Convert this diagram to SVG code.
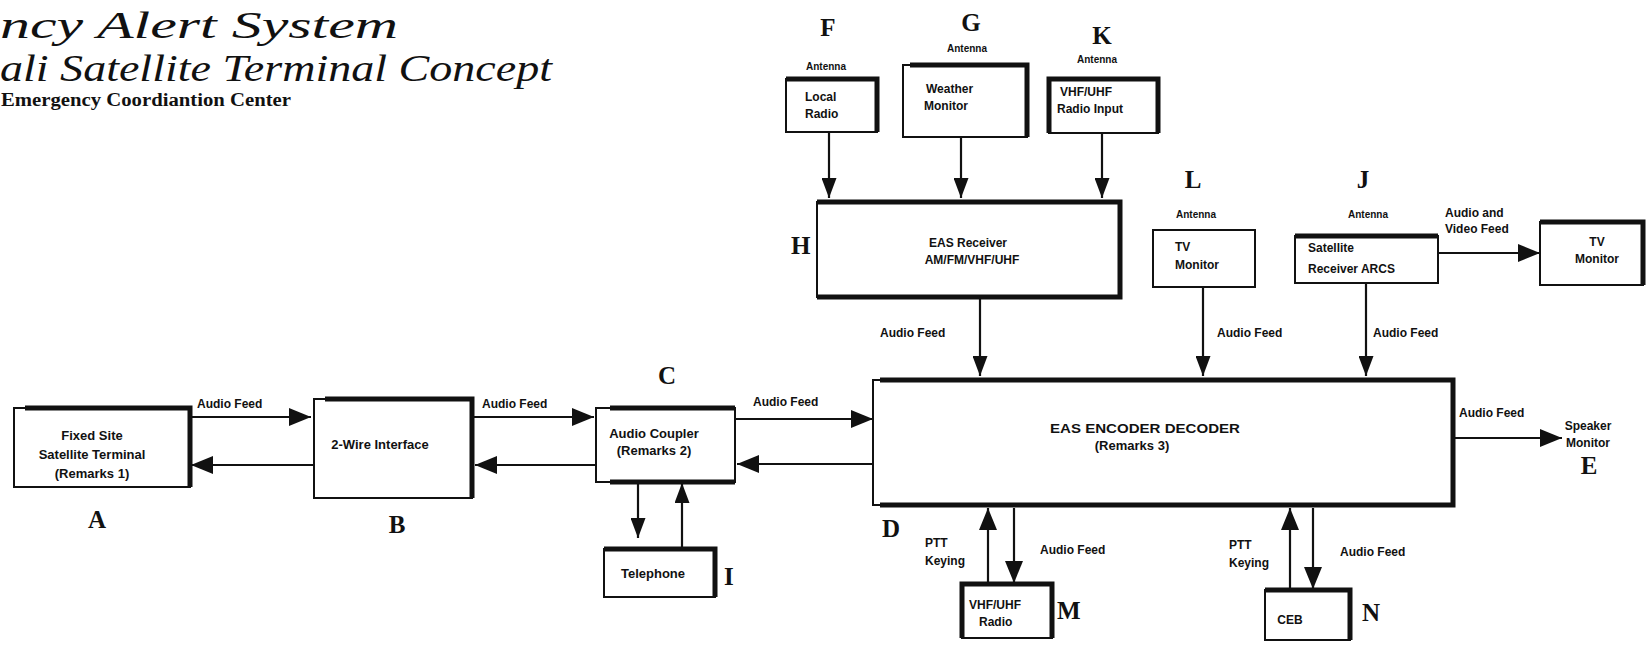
<svg xmlns="http://www.w3.org/2000/svg" width="1646" height="645" viewBox="0 0 1646 645">
<defs>
<style>
.box{fill:#fff;stroke:#111;stroke-width:2}
.heavy{fill:none;stroke:#111;stroke-width:5}
.t{font-family:"Liberation Sans",Arial,sans-serif;font-weight:bold;font-size:12px;fill:#111}
.b{font-family:"Liberation Sans",Arial,sans-serif;font-weight:bold;font-size:13px;fill:#111}
.s{font-family:"Liberation Sans",Arial,sans-serif;font-weight:bold;font-size:12px;fill:#111}
.a{font-family:"Liberation Sans",Arial,sans-serif;font-weight:bold;font-size:10px;fill:#111}
.L{font-family:"Liberation Serif","Times New Roman",serif;font-weight:bold;font-size:25px;fill:#111}
.ttl{font-family:"Liberation Serif","Times New Roman",serif;font-style:italic;fill:#111}
.c{fill:none;stroke:#111;stroke-width:2.2}
</style>
<marker id="ah" viewBox="0 0 22 18" refX="22" refY="9" markerWidth="22" markerHeight="18" orient="auto" markerUnits="userSpaceOnUse"><path d="M0,0 L22,9 L0,18 z" fill="#111"/></marker>
<marker id="av" viewBox="0 0 20 15" refX="20" refY="7.5" markerWidth="20" markerHeight="15" orient="auto" markerUnits="userSpaceOnUse"><path d="M0,0 L20,7.5 L0,15 z" fill="#111"/></marker>
</defs>
<rect width="1646" height="645" fill="#fff"/>

<g id="title">
<text class="ttl" x="0" y="38" font-size="38" textLength="398" lengthAdjust="spacingAndGlyphs">ncy Alert System</text>
<text class="ttl" x="0" y="81" font-size="38" textLength="552" lengthAdjust="spacingAndGlyphs">ali Satellite Terminal Concept</text>
<text x="1" y="106" font-family="Liberation Serif, Times New Roman, serif" font-weight="bold" font-size="18" textLength="290" lengthAdjust="spacingAndGlyphs" fill="#111">Emergency Coordiantion Center</text>
</g>

<g id="connectors">
<line class="c" x1="190" y1="417" x2="311" y2="417" marker-end="url(#ah)"/>
<line class="c" x1="313" y1="465" x2="191" y2="465" marker-end="url(#ah)"/>
<line class="c" x1="473" y1="417" x2="594" y2="417" marker-end="url(#ah)"/>
<line class="c" x1="595" y1="465" x2="475" y2="465" marker-end="url(#ah)"/>
<line class="c" x1="735" y1="419" x2="873" y2="419" marker-end="url(#ah)"/>
<line class="c" x1="873" y1="464" x2="737" y2="464" marker-end="url(#ah)"/>
<line class="c" x1="638" y1="482" x2="638" y2="538" marker-end="url(#av)"/>
<line class="c" x1="682" y1="549" x2="682" y2="483" marker-end="url(#av)"/>
<line class="c" x1="829" y1="132" x2="829" y2="198" marker-end="url(#av)"/>
<line class="c" x1="961" y1="137" x2="961" y2="198" marker-end="url(#av)"/>
<line class="c" x1="1102" y1="133" x2="1102" y2="198" marker-end="url(#av)"/>
<line class="c" x1="980" y1="297" x2="980" y2="376" marker-end="url(#av)"/>
<line class="c" x1="1203" y1="287" x2="1203" y2="376" marker-end="url(#av)"/>
<line class="c" x1="1366" y1="283" x2="1366" y2="376" marker-end="url(#av)"/>
<line class="c" x1="1438" y1="253" x2="1540" y2="253" marker-end="url(#ah)"/>
<line class="c" x1="1453" y1="438" x2="1562" y2="438" marker-end="url(#ah)"/>
<line class="c" x1="988" y1="584" x2="988" y2="508" marker-end="url(#ah)"/>
<line class="c" x1="1014" y1="508" x2="1014" y2="583" marker-end="url(#ah)"/>
<line class="c" x1="1290" y1="590" x2="1290" y2="508" marker-end="url(#ah)"/>
<line class="c" x1="1313" y1="508" x2="1313" y2="589" marker-end="url(#ah)"/>
</g>

<g id="connector-labels">
<text class="s" x="197" y="408">Audio Feed</text>
<text class="s" x="482" y="408">Audio Feed</text>
<text class="s" x="753" y="406">Audio Feed</text>
<text class="s" x="880" y="337">Audio Feed</text>
<text class="s" x="1217" y="337">Audio Feed</text>
<text class="s" x="1373" y="337">Audio Feed</text>
<text class="s" x="1459" y="417">Audio Feed</text>
<text class="s" x="1040" y="554">Audio Feed</text>
<text class="s" x="1340" y="556">Audio Feed</text>
<text class="s" x="1445" y="217">Audio and</text>
<text class="s" x="1445" y="233">Video Feed</text>
<text class="t" x="925" y="547" font-size="11.5">PTT</text>
<text class="t" x="925" y="565" font-size="11.5">Keying</text>
<text class="t" x="1229" y="549" font-size="11.5">PTT</text>
<text class="t" x="1229" y="567" font-size="11.5">Keying</text>
</g>

<g id="nodeA">
<rect class="box" x="14" y="408" width="176" height="79"/>
<path class="heavy" d="M25,408 H190 V487"/>
<text class="b" x="92" y="440" text-anchor="middle" font-size="13.5">Fixed  Site</text>
<text class="b" x="92" y="459" text-anchor="middle" font-size="13.5">Satellite Terminal</text>
<text class="b" x="92" y="478" text-anchor="middle" font-size="13.5">(Remarks 1)</text>
<text class="L" x="97" y="528" text-anchor="middle">A</text>
</g>

<g id="nodeB">
<rect class="box" x="314" y="399" width="158" height="99"/>
<path class="heavy" d="M325,399 H472 V498"/>
<text class="b" x="380" y="449" text-anchor="middle" font-size="13.5">2-Wire Interface</text>
<text class="L" x="397" y="533" text-anchor="middle">B</text>
</g>

<g id="nodeC">
<rect class="box" x="596" y="408" width="139" height="74"/>
<path class="heavy" d="M610,408 H735 M610,482 H735"/>
<text class="b" x="654" y="438" text-anchor="middle">Audio Coupler</text>
<text class="b" x="654" y="455" text-anchor="middle">(Remarks 2)</text>
<text class="L" x="667" y="384" text-anchor="middle">C</text>
</g>

<g id="nodeI">
<rect class="box" x="604" y="549" width="111" height="48"/>
<path class="heavy" d="M604,549 H715 V597"/>
<text class="b" x="653" y="578" text-anchor="middle">Telephone</text>
<text class="L" x="724" y="585">I</text>
</g>

<g id="nodeD">
<rect class="box" x="873" y="380" width="580" height="125"/>
<path class="heavy" d="M880,380 H1453 V505 H880"/>
<text class="b" x="1145" y="433" text-anchor="middle" font-size="14.5" textLength="190" lengthAdjust="spacingAndGlyphs">EAS ENCODER DECODER</text>
<text class="b" x="1132" y="450" text-anchor="middle" font-size="12.5">(Remarks 3)</text>
<text class="L" x="882" y="537" font-size="23">D</text>
</g>

<g id="nodeE">
<text class="t" x="1588" y="430" text-anchor="middle">Speaker</text>
<text class="t" x="1588" y="447" text-anchor="middle">Monitor</text>
<text class="L" x="1589" y="474" text-anchor="middle" font-size="23">E</text>
</g>

<g id="nodeF">
<rect class="box" x="786" y="79" width="91" height="53"/>
<path class="heavy" d="M786,79 H877 V132"/>
<text class="a" x="826" y="70" text-anchor="middle">Antenna</text>
<text class="t" x="805" y="101">Local</text>
<text class="t" x="805" y="118">Radio</text>
<text class="L" x="828" y="36" text-anchor="middle">F</text>
</g>

<g id="nodeG">
<rect class="box" x="903" y="65" width="124" height="72"/>
<path class="heavy" d="M910,65 H1027 V137"/>
<text class="a" x="967" y="52" text-anchor="middle">Antenna</text>
<text class="t" x="926" y="93">Weather</text>
<text class="t" x="924" y="110">Monitor</text>
<text class="L" x="971" y="31" text-anchor="middle">G</text>
</g>

<g id="nodeK">
<rect class="box" x="1049" y="79" width="109" height="54"/>
<path class="heavy" d="M1049,133 V79 H1158 V133"/>
<text class="a" x="1097" y="63" text-anchor="middle">Antenna</text>
<text class="t" x="1060" y="96">VHF/UHF</text>
<text class="t" x="1057" y="113">Radio Input</text>
<text class="L" x="1102" y="44" text-anchor="middle">K</text>
</g>

<g id="nodeH">
<rect class="box" x="817" y="202" width="303" height="95"/>
<path class="heavy" d="M817,202 H1120 V297 H817"/>
<text class="t" x="968" y="247" text-anchor="middle" font-size="12.5">EAS Receiver</text>
<text class="t" x="972" y="264" text-anchor="middle" font-size="12.5">AM/FM/VHF/UHF</text>
<text class="L" x="791" y="254">H</text>
</g>

<g id="nodeL">
<rect class="box" x="1153" y="230" width="102" height="57"/>
<text class="a" x="1196" y="218" text-anchor="middle">Antenna</text>
<text class="t" x="1175" y="251">TV</text>
<text class="t" x="1175" y="269">Monitor</text>
<text class="L" x="1193" y="188" text-anchor="middle">L</text>
</g>

<g id="nodeJ">
<rect class="box" x="1295" y="236" width="143" height="47"/>
<path class="heavy" d="M1295,236 H1438"/>
<text class="a" x="1368" y="218" text-anchor="middle">Antenna</text>
<text class="t" x="1308" y="252" fill="#666">Satellite</text>
<text class="t" x="1308" y="273">Receiver ARCS</text>
<text class="L" x="1363" y="188" text-anchor="middle">J</text>
</g>

<g id="nodeTV">
<rect class="box" x="1540" y="222" width="103" height="63"/>
<path class="heavy" d="M1540,222 H1643 V285"/>
<text class="t" x="1597" y="246" text-anchor="middle">TV</text>
<text class="t" x="1597" y="263" text-anchor="middle">Monitor</text>
</g>

<g id="nodeM">
<rect class="box" x="962" y="584" width="90" height="54"/>
<path class="heavy" d="M962,638 V584 H1052 V638"/>
<text class="t" x="969" y="609">VHF/UHF</text>
<text class="t" x="979" y="626">Radio</text>
<text class="L" x="1057" y="619">M</text>
</g>

<g id="nodeN">
<rect class="box" x="1265" y="590" width="85" height="50"/>
<path class="heavy" d="M1265,590 H1350 V640"/>
<text class="t" x="1290" y="624" text-anchor="middle">CEB</text>
<text class="L" x="1362" y="621">N</text>
</g>
</svg>
